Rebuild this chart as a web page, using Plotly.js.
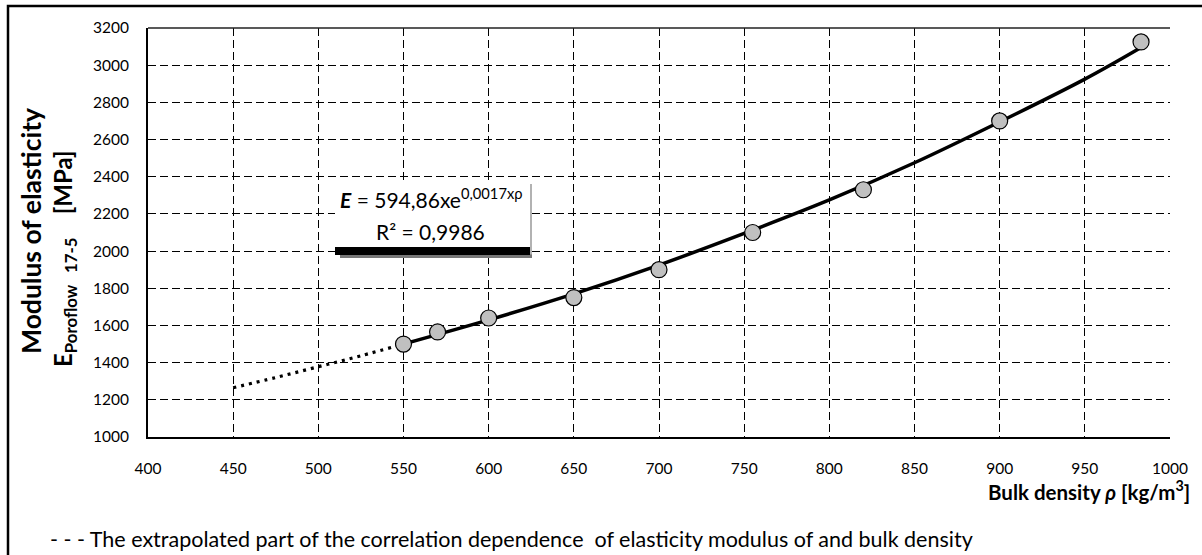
<!DOCTYPE html>
<html>
<head>
<meta charset="utf-8">
<script src="https://cdn.plot.ly/plotly-3.0.1.min.js"></script>
<style>html,body{margin:0;padding:0;background:#fff;}#chart{width:1202px;height:555px;}</style>
</head>
<body>
<div id="chart"></div>
<script>
// Measured points
const density = [550, 570, 600, 650, 700, 755, 820, 900, 983];
const modulus = [1500, 1565, 1640, 1750, 1900, 2100, 2330, 2700, 3125];
// Trend line (extrapolated part and fitted part)
const extrapX = [450, 475, 500, 525, 550];
const extrapY = [1265, 1320, 1378, 1437, 1500];
const fitX = [550, 600, 650, 700, 750, 800, 850, 900, 950, 983];
const fitY = [1500, 1630, 1770, 1925, 2095, 2275, 2475, 2695, 2925, 3095];
const xTicks = [400, 450, 500, 550, 600, 650, 700, 750, 800, 850, 900, 950, 1000];
const yTicks = [1000, 1200, 1400, 1600, 1800, 2000, 2200, 2400, 2600, 2800, 3000, 3200];

const FONT = 'Lato, "Open Sans", sans-serif';
const NB = '\u00A0';

const traces = [
  {x: extrapX, y: extrapY, mode: 'lines', line: {color: '#000', width: 3.2, dash: '3px,5px', shape: 'spline'}, hoverinfo: 'skip'},
  {x: fitX, y: fitY, mode: 'lines', line: {color: '#000', width: 3.5, shape: 'spline'}, hoverinfo: 'skip'},
  {x: density, y: modulus, mode: 'markers', marker: {size: 16, color: '#c0c0c0', line: {color: '#000', width: 1.2}}}
];

function px(x){return (x-148)/1022;}
function py(y){return (437-y)/409;}

const layout = {
  width: 1202, height: 555,
  margin: {l: 148, r: 32, t: 28, b: 118},
  paper_bgcolor: '#fff', plot_bgcolor: '#fff',
  showlegend: false,
  font: {family: FONT, color: '#000', size: 15},
  xaxis: {
    range: [400, 1000], tickvals: xTicks, ticktext: xTicks.map(String),
    showgrid: true, gridcolor: '#000', gridwidth: 1, griddash: '8px,4px',
    showline: true, linecolor: '#000', linewidth: 2, ticks: '',
    ticklabelstandoff: 16, zeroline: false,
    tickfont: {family: FONT, size: 15.5, color: '#000'}
  },
  yaxis: {
    range: [1000, 3200], tickvals: yTicks, ticktext: yTicks.map(String),
    showgrid: true, gridcolor: '#000', gridwidth: 1, griddash: '8px,4px',
    showline: true, linecolor: '#000', linewidth: 2, ticks: '',
    ticklabelstandoff: 14, zeroline: false,
    tickfont: {family: FONT, size: 15.5, color: '#000'}
  },
  shapes: [
    {type: 'line', xref: 'paper', yref: 'paper', x0: 0, x1: 1, y0: 1, y1: 1, line: {color: '#222', width: 1.3}},
    {type: 'rect', xref: 'paper', yref: 'paper', x0: px(8), x1: px(1210), y0: py(565), y1: py(6), line: {color: '#000', width: 2.5}, layer: 'above'},
    {type: 'rect', xref: 'paper', yref: 'paper', x0: px(335), x1: px(531), y0: py(250), y1: py(180), fillcolor: '#fff', line: {width: 0}, layer: 'above'},
    {type: 'rect', xref: 'paper', yref: 'paper', x0: px(340), x1: px(532), y0: py(258), y1: py(254), fillcolor: '#777', line: {width: 0}, layer: 'above'},
    {type: 'rect', xref: 'paper', yref: 'paper', x0: px(335), x1: px(530), y0: py(255), y1: py(247), fillcolor: '#000', line: {width: 0}, layer: 'above'},
    {type: 'line', xref: 'paper', yref: 'paper', x0: px(531), x1: px(531), y0: py(255), y1: py(184), line: {color: '#999', width: 1.5}, layer: 'above'}
  ],
  annotations: [
    {xref: 'paper', yref: 'paper', x: px(431), y: py(198), xanchor: 'center', yanchor: 'middle', showarrow: false,
     text: '<b><i>E</i></b> = 594,86xe<sup>0,0017xρ</sup>', font: {family: FONT, size: 21, color: '#000'}},
    {xref: 'paper', yref: 'paper', x: px(430), y: py(231), xanchor: 'center', yanchor: 'middle', showarrow: false,
     text: 'R² = 0,9986', font: {family: FONT, size: 21, color: '#000'}},
    {xref: 'paper', yref: 'paper', x: px(31), y: py(231), xanchor: 'center', yanchor: 'middle', showarrow: false, textangle: -90,
     text: '<b>Modulus of elasticity</b>', font: {family: FONT, size: 26.5, color: '#000'}},
    {xref: 'paper', yref: 'paper', x: px(64), y: py(259), xanchor: 'center', yanchor: 'middle', showarrow: false, textangle: -90,
     text: '<b>E<sub>Poroflow' + NB + NB + NB + '17-5</sub>' + NB + NB + NB + NB + '[MPa]</b>', font: {family: FONT, size: 24, color: '#000'}},
    {xref: 'paper', yref: 'paper', x: px(1192), y: py(490), xanchor: 'right', yanchor: 'middle', showarrow: false,
     text: '<b>Bulk density <i>ρ</i> [kg/m<sup>3</sup>]</b>', font: {family: FONT, size: 20.5, color: '#000'}},
    {xref: 'paper', yref: 'paper', x: px(48), y: py(539), xanchor: 'left', yanchor: 'middle', showarrow: false,
     text: '- - - The extrapolated part of the correlation dependence  of elasticity modulus of and bulk density', font: {family: FONT, size: 21.5, color: '#000'}}
  ]
};

Plotly.newPlot('chart', traces, layout, {displayModeBar: false, staticPlot: true});
</script>
</body>
</html>
